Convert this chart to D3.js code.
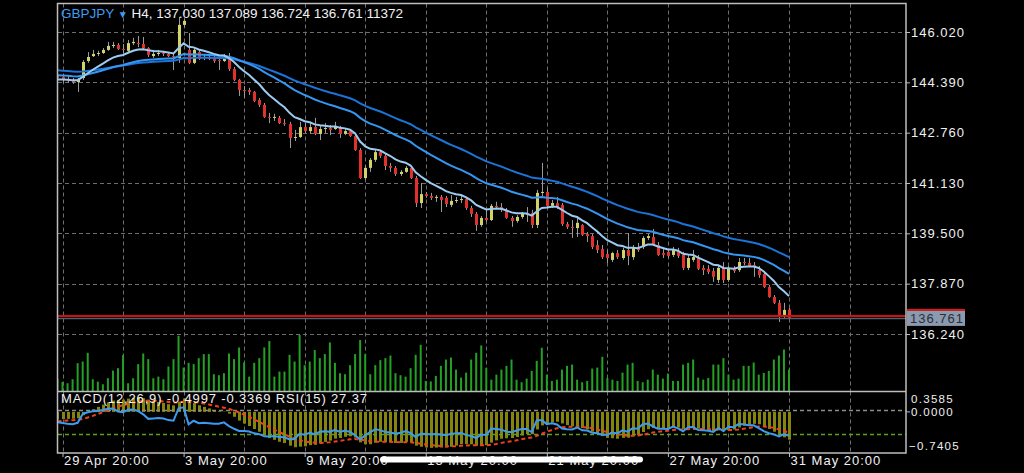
<!DOCTYPE html>
<html><head><meta charset="utf-8">
<script src="https://cdn.jsdelivr.net/npm/d3@7"></script>
<style>
body{margin:0;background:#000;}
svg{display:block;}
text{font-family:"Liberation Sans",Arial,Helvetica,sans-serif;}
</style></head>
<body><svg id="c" width="1024" height="473"></svg>
<script>
// ---- data (H4 candles, first candle index -1 = 29 Apr 16:00, index 144 = 31 May 20:00)
const firstIndex = -1;
const open = [
144.63,144.56,144.50,144.47,144.40,144.53,145.08,145.24,145.31,145.34,
145.44,145.57,145.60,145.47,145.41,145.66,145.66,145.63,145.50,145.24,
145.31,145.34,145.31,145.24,145.18,146.25,145.44,145.02,145.37,145.18,
145.21,145.18,145.11,145.08,145.21,144.82,144.47,144.14,144.14,144.08,
143.82,143.66,143.27,143.24,143.24,143.07,143.04,142.59,142.62,142.94,
142.81,142.94,142.72,142.88,142.91,142.88,142.94,142.72,142.81,142.65,
142.20,141.29,141.62,141.88,142.13,142.01,141.68,141.62,141.42,141.49,
141.62,141.29,140.48,140.77,140.71,140.65,140.68,140.65,140.42,140.55,
140.58,140.61,140.32,140.13,139.77,140.00,139.93,140.39,140.35,140.26,
140.00,139.90,140.03,140.13,140.16,139.77,140.81,140.84,140.39,140.48,
140.42,139.80,139.71,139.67,139.77,139.48,139.41,139.12,138.99,138.83,
138.64,138.86,138.70,138.96,138.73,139.06,139.06,139.35,139.38,139.12,
138.86,138.90,138.80,138.93,138.80,138.38,138.64,138.70,138.38,138.35,
138.28,137.99,138.38,137.99,138.35,138.31,138.57,138.54,138.47,138.31,
138.18,137.76,137.44,137.25,136.86,137.030];
const high = [
144.72,144.66,144.60,144.53,144.53,145.11,145.37,145.44,145.41,145.50,
145.70,145.70,145.66,145.63,145.76,145.83,145.89,145.86,145.53,145.44,
145.44,145.41,145.37,145.34,146.51,146.44,145.99,145.50,145.44,145.31,
145.28,145.24,145.21,145.31,145.34,144.89,144.50,144.27,144.21,144.11,
143.88,143.72,143.40,143.37,143.30,143.20,143.11,142.85,143.11,143.07,
143.11,143.24,143.01,143.07,143.01,143.11,142.98,142.88,142.85,142.72,
142.26,141.71,141.94,142.20,142.20,142.07,141.78,141.68,141.55,141.68,
141.65,141.36,141.13,140.84,140.81,140.74,140.74,140.71,140.74,140.68,
140.71,140.68,140.39,140.19,140.06,140.26,140.45,140.52,140.48,140.32,
140.06,140.09,140.19,140.35,140.26,140.91,141.78,140.97,140.58,140.68,
140.48,139.87,139.93,140.00,139.80,139.54,139.48,139.28,139.12,138.96,
138.90,138.96,139.03,139.51,139.12,139.19,139.41,139.48,139.64,139.22,
138.99,138.99,139.06,139.03,138.90,138.80,138.96,138.80,138.47,138.47,
138.38,138.47,138.57,138.44,138.44,138.70,138.70,138.70,138.57,138.44,
138.25,137.83,137.50,137.34,137.25,137.089];
const low = [
144.40,144.37,144.37,144.34,144.08,144.47,145.02,145.21,145.24,145.31,
145.41,145.50,145.44,145.34,145.34,145.60,145.53,145.44,145.21,145.18,
145.24,145.24,145.21,144.79,145.02,146.18,144.98,144.98,145.11,145.11,
145.11,145.02,144.79,145.05,144.76,144.43,143.95,143.88,143.98,143.75,
143.59,143.24,143.07,143.14,143.04,142.98,142.26,142.49,142.59,142.75,
142.72,142.68,142.52,142.75,142.68,142.85,142.59,142.68,142.62,142.17,
141.26,141.23,141.49,141.81,141.94,141.55,141.49,141.36,141.36,141.46,
141.26,140.35,140.32,140.65,140.58,140.52,140.19,140.35,140.35,140.48,
140.48,140.26,140.03,139.58,139.71,139.87,139.90,140.29,140.19,139.97,
139.71,139.84,139.97,139.87,139.67,139.67,140.71,140.32,140.32,140.29,
139.74,139.64,139.35,139.38,139.41,139.22,138.99,138.86,138.67,138.54,
138.57,138.67,138.64,138.47,138.64,138.90,138.99,139.28,139.09,138.77,
138.70,138.70,138.73,138.70,138.31,138.31,138.57,138.31,138.15,138.18,
137.93,137.89,137.89,137.93,138.22,138.25,138.47,138.41,138.09,138.06,
137.73,137.41,137.21,136.63,136.76,136.724];
const close = [
144.53,144.47,144.43,144.40,144.47,145.05,145.21,145.31,145.34,145.44,
145.57,145.60,145.47,145.44,145.66,145.70,145.63,145.50,145.28,145.31,
145.34,145.31,145.24,145.21,146.25,146.38,145.02,145.44,145.15,145.21,
145.15,145.08,145.08,145.21,144.82,144.47,144.14,144.13,144.08,143.79,
143.66,143.27,143.24,143.27,143.07,143.04,142.59,142.62,142.94,142.81,
142.94,142.72,142.88,142.91,142.85,142.98,142.72,142.81,142.65,142.20,
141.29,141.62,141.88,142.13,142.01,141.68,141.62,141.42,141.49,141.62,
141.29,140.48,140.77,140.71,140.65,140.68,140.58,140.45,140.55,140.58,
140.61,140.32,140.13,139.77,140.00,139.93,140.39,140.35,140.26,140.00,
139.90,140.03,140.13,140.12,139.77,140.81,140.84,140.39,140.48,140.35,
139.80,139.71,139.67,139.84,139.45,139.41,139.06,138.96,138.73,138.70,
138.86,138.73,138.96,138.77,139.03,138.96,139.35,139.41,139.12,138.80,
138.80,138.77,138.96,138.77,138.38,138.70,138.73,138.35,138.31,138.25,
138.09,138.38,137.99,138.35,138.28,138.57,138.54,138.44,138.44,138.15,
137.76,137.44,137.25,136.86,137.02,136.761];
const volume = [
6410,4810,4110,6250,14790,15650,20290,6250,4970,3580,
6780,10840,12120,19060,4110,6780,14260,19920,16930,6780,
7640,6250,12980,16930,29370,12440,14950,14260,17460,19600,
19600,8920,8380,9450,19920,16930,23120,15110,7640,14950,
17460,23120,26540,7640,10310,10310,19220,15650,29740,13720,
15650,21730,17460,19600,25790,14950,9450,8920,13720,19600,
27070,19600,8920,13720,16390,17460,18850,9450,8380,7640,
12120,19220,24560,5340,5070,8010,13350,16710,17780,11370,
7100,9770,16710,20290,24190,12280,6030,8700,11370,13350,
16710,6030,4650,6570,10680,16020,22960,8700,5340,6030,
11370,13350,14040,6030,4650,5340,11910,12440,18160,6940,
6030,5340,9770,14040,14950,5340,4650,6030,11370,8700,
6570,9240,5340,5340,14040,14950,16710,7100,6030,6940,
14040,14040,17460,8700,6030,6570,13350,13350,15110,8700,
9610,10680,16710,18850,22050,11372];

const symbol = "GBPJPY";
const timeframe = "H4";
const askPrice = 136.822;
const priceTicks = [146.020, 144.390, 142.760, 141.130, 139.500, 137.870, 136.240];
const macdTicks = [0.3585, 0.0000, -0.7405];
const timeLabels = ["29 Apr 20:00","3 May 20:00","9 May 20:00","15 May 20:00","21 May 20:00","27 May 20:00","31 May 20:00"];
const timeLabelIndex = [0, 24, 48, 72, 96, 120, 144];
// moving averages (EMA periods) and their values at the first visible candle
const maPeriods = [50, 30, 10];
const maStart = [144.79, 144.63, 144.47];
const maColors = ["#1b74d8", "#3597f2", "#9ccbf2"];
// MACD(12,26,9) + RSI(15): starting states at the first visible candle
const macdParams = [12, 26, 9];
const macdStart = [144.50, 144.65, -0.18];
const rsiPeriod = 15;
const rsiStart = [0.06, 0.06];
const rsiLevels = [70, 30];
const captionValues = ["-0.4997", "-0.3369", "27.37"];

// ---- indicator computation
function ema(values, period, seed){ const a = 2/(period+1); let e = seed; return values.map(v => (e = e + a*(v - e))); }
function rsi(values, period, g0, l0){
  let ag = g0, al = l0;
  return values.map((v,k) => {
    if (k > 0){ const d = v - values[k-1];
      ag = (ag*(period-1) + Math.max(d,0))/period;
      al = (al*(period-1) + Math.max(-d,0))/period; }
    return 100*ag/(ag+al);
  });
}
const idx = close.map((_,k) => k + firstIndex);
const maLines = maPeriods.map((p,j) => ema(close, p, maStart[j]));
const fast = ema(close, macdParams[0], macdStart[0]);
const slow = ema(close, macdParams[1], macdStart[1]);
const macdMain = fast.map((f,k) => f - slow[k]);
const macdSignal = ema(macdMain, macdParams[2], macdStart[2]);
const rsiVals = rsi(close, rsiPeriod, rsiStart[0], rsiStart[1]);

// ---- layout
const svg = d3.select("#c");
const L = 58, R = 906, T = 3.5, MB = 391.5, SB = 453;
const x = d3.scaleLinear().domain([0,144]).range([62.5, 789]);
const y = d3.scaleLinear().domain([146.02, 136.24]).range([32, 334]);
const yVol = d3.scaleLinear().domain([0, d3.max(volume)]).range([391, 335]);
const yMacd = d3.scaleLinear().domain([0.3585, -0.7405]).range([392, 453]);
const yRsi = d3.scaleLinear().domain([0,100]).range([452, 392]);

const defs = svg.append("defs");
defs.append("clipPath").attr("id","cm").append("rect").attr("x",L).attr("y",T+0.5).attr("width",R-L).attr("height",MB-T-1);
defs.append("clipPath").attr("id","cs").append("rect").attr("x",L).attr("y",MB+0.5).attr("width",R-L).attr("height",SB-MB-1);

const gridIdx = d3.range(0, 168, 12);
const gm = svg.append("g").attr("clip-path","url(#cm)");
const gs = svg.append("g").attr("clip-path","url(#cs)");

// grids
gm.selectAll(".hg").data(priceTicks).join("line")
  .attr("x1",L).attr("x2",R).attr("y1",d=>Math.round(y(d))+0.5).attr("y2",d=>Math.round(y(d))+0.5)
  .attr("stroke","#6e6e6e").attr("stroke-dasharray","4,3");
gm.selectAll(".vg").data(gridIdx).join("line")
  .attr("x1",d=>Math.round(x(d))+0.5).attr("x2",d=>Math.round(x(d))+0.5).attr("y1",T).attr("y2",MB)
  .attr("stroke","#6e6e6e").attr("stroke-dasharray","4,3");
gs.selectAll(".vg").data(gridIdx).join("line")
  .attr("x1",d=>Math.round(x(d))+0.5).attr("x2",d=>Math.round(x(d))+0.5).attr("y1",MB).attr("y2",SB)
  .attr("stroke","#6e6e6e").attr("stroke-dasharray","4,3");

// volumes
gm.selectAll(".vol").data(idx).join("rect")
  .attr("x",d=>x(d)-1).attr("width",2)
  .attr("y",(d,k)=>yVol(volume[k])).attr("height",(d,k)=>yVol(0)-yVol(volume[k]))
  .attr("fill","#24a024");

// candles
const cg = gm.append("g");
cg.selectAll(".wick").data(idx).join("line")
  .attr("x1",d=>Math.round(x(d))+0.5).attr("x2",d=>Math.round(x(d))+0.5)
  .attr("y1",(d,k)=>y(high[k])).attr("y2",(d,k)=>y(low[k]))
  .attr("stroke","#9a9a9a").attr("stroke-width",1);
cg.selectAll(".body").data(idx).join("rect")
  .attr("x",d=>Math.round(x(d))-1).attr("width",3)
  .attr("y",(d,k)=>y(Math.max(open[k],close[k])))
  .attr("height",(d,k)=>Math.max(1, Math.abs(y(open[k])-y(close[k]))))
  .attr("fill",(d,k)=> close[k]>open[k] ? "#d2d266" : (close[k]<open[k] ? "#e2302c" : "#9a9a9a"));

// moving averages
maLines.forEach((vals,j) => {
  gm.append("path").datum(idx)
    .attr("d", d3.line().x(d=>x(d)).y((d,k)=>y(vals[k])))
    .attr("fill","none").attr("stroke",maColors[j]).attr("stroke-width",2);
});

// ask / bid lines
gm.append("line").attr("x1",L).attr("x2",R).attr("y1",y(askPrice)).attr("y2",y(askPrice))
  .attr("stroke","#d01010").attr("stroke-width",2);
gm.append("line").attr("x1",L).attr("x2",R).attr("y1",y(close[close.length-1])+0.5).attr("y2",y(close[close.length-1])+0.5)
  .attr("stroke","#55606c").attr("stroke-width",1.5);

// MACD histogram + signal + RSI
gs.selectAll(".mh").data(idx).join("rect")
  .attr("x",d=>Math.round(x(d))-1).attr("width",3)
  .attr("y",(d,k)=>Math.min(yMacd(0),yMacd(macdMain[k])))
  .attr("height",(d,k)=>Math.abs(yMacd(macdMain[k])-yMacd(0)))
  .attr("fill","#85850e");
gs.selectAll(".lv").data(rsiLevels).join("line")
  .attr("x1",L).attr("x2",R).attr("y1",d=>Math.round(yRsi(d))+0.5).attr("y2",d=>Math.round(yRsi(d))+0.5)
  .attr("stroke",(d,i)=> i===0 ? "#8a8f86" : "#5fa01c").attr("stroke-width",1.5).attr("stroke-dasharray","4,3");
gs.append("path").datum(idx)
  .attr("d", d3.line().x(d=>x(d)).y((d,k)=>yMacd(macdSignal[k])))
  .attr("fill","none").attr("stroke","#f0401e").attr("stroke-width",2).attr("stroke-dasharray","4,3");
gs.append("path").datum(idx)
  .attr("d", d3.line().x(d=>x(d)).y((d,k)=>yRsi(rsiVals[k])))
  .attr("fill","none").attr("stroke","#3b9cf2").attr("stroke-width",2);

// frames
const fr = svg.append("g").attr("stroke","#bdbdbd").attr("stroke-width",1.5).attr("fill","none");
fr.append("path").attr("d",`M${L-0.5},${T} H${R} V${SB} H${L-0.5} Z`);
fr.append("line").attr("x1",L-0.5).attr("x2",R).attr("y1",MB).attr("y2",MB);

// price axis
const pa = svg.append("g").attr("transform",`translate(${R},0)`)
  .call(d3.axisRight(y).tickValues(priceTicks).tickFormat(d3.format(".3f")).tickSize(4).tickPadding(1));
pa.select(".domain").remove();
pa.selectAll("line").attr("stroke","#bdbdbd");
pa.selectAll("text").attr("fill","#f0f0f0").attr("font-size",13).attr("letter-spacing",1)
  .attr("font-family","'Liberation Sans',Arial,sans-serif");

// current price label
const lastC = close[close.length-1];
svg.append("rect").attr("x",907).attr("y",y(lastC)-9).attr("width",58).attr("height",2).attr("fill","#e01818");
svg.append("rect").attr("x",907).attr("y",y(lastC)-7).attr("width",58).attr("height",15).attr("fill","#8b9aae");
svg.append("text").attr("x",910).attr("y",y(lastC)+5).attr("font-size",13).attr("letter-spacing",1)
  .attr("fill","#2a2e35").text(d3.format(".3f")(lastC));

// MACD axis labels
const ma = svg.append("g");
ma.selectAll("text").data(macdTicks).join("text")
  .attr("x",d=> d<0 ? 909 : 911)
  .attr("y",(d,i)=> i===0 ? 403 : (i===2 ? 449.5 : 415.5))
  .attr("font-size",11.5).attr("letter-spacing",1.3).attr("fill","#f0f0f0")
  .text(d=>d3.format(".4f")(d));
ma.append("line").attr("x1",R).attr("x2",R+4).attr("y1",yMacd(0)).attr("y2",yMacd(0)).attr("stroke","#bdbdbd");

// time axis
const ta = svg.append("g").attr("transform",`translate(0,${SB})`)
  .call(d3.axisBottom(x).tickValues(timeLabelIndex).tickFormat((d,i)=>timeLabels[i]).tickSize(4).tickPadding(1));
ta.select(".domain").remove();
ta.selectAll("line").attr("stroke","#bdbdbd");
ta.selectAll("text").attr("fill","#f0f0f0").attr("font-size",13).attr("letter-spacing",1)
  .attr("text-anchor","start").attr("dx",1).attr("dy","0.55em");

// header
const hd = svg.append("text").attr("x",61).attr("y",18).attr("font-size",13.5).attr("fill","#f2f2f2");
hd.append("tspan").attr("fill","#3d9df2").text(symbol + " ");
hd.append("tspan").attr("fill","#3d9df2").attr("font-size",10).text("▼");
hd.append("tspan").text(` ${timeframe}, ${d3.format(".3f")(open[open.length-1])} ${d3.format(".3f")(high[high.length-1])} ${d3.format(".3f")(low[low.length-1])} ${d3.format(".3f")(lastC)} ${volume[volume.length-1]}`);

// MACD/RSI caption
svg.append("text").attr("x",61).attr("y",403).attr("font-size",13).attr("letter-spacing",0.85).attr("fill","#f2f2f2")
  .text(`MACD(${macdParams.join(",")}) ${captionValues[0]} ${captionValues[1]} RSI(${rsiPeriod}) ${captionValues[2]}`);

// home indicator
svg.append("rect").attr("x",380).attr("y",456.5).attr("width",263).attr("height",6).attr("rx",3).attr("fill","#ffffff");
</script></body></html>
